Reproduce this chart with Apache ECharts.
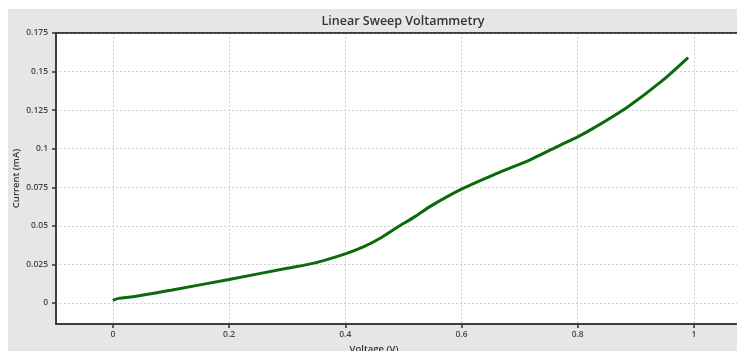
<!DOCTYPE html>
<html>
<head>
<meta charset="utf-8">
<script src="https://cdn.jsdelivr.net/npm/echarts@6/dist/echarts.min.js"></script>
<style>
html,body{margin:0;padding:0;background:#fff;overflow:hidden;}
#c{width:737px;height:351px;}
</style>
</head>
<body>
<div id="c"></div>
<script>
var voltage = [0, 0.01, 0.035, 0.1, 0.2, 0.3, 0.35, 0.4, 0.432, 0.46, 0.489, 0.52, 0.547, 0.6, 0.661, 0.719, 0.771, 0.8, 0.828, 0.886, 0.943, 0.99];
var current = [0.0017, 0.003, 0.004, 0.0083, 0.0153, 0.0225, 0.0262, 0.0318, 0.0365, 0.042, 0.049, 0.056, 0.0628, 0.0738, 0.084, 0.093, 0.1025, 0.1077, 0.1135, 0.1271, 0.1433, 0.1591];
var xTicks = [0, 0.2, 0.4, 0.6, 0.8, 1];
var yTicks = [0, 0.025, 0.05, 0.075, 0.1, 0.125, 0.15, 0.175];
var titleText = 'Linear Sweep Voltammetry';
var xName = 'Voltage (V)';
var yName = 'Current (mA)';

var points = voltage.map(function (v, i) { return [v, current[i]]; });
var font = 'Open Sans';
var chart = echarts.init(document.getElementById('c'), null, {renderer: 'canvas'});
chart.setOption({
  backgroundColor: '#fff',
  animation: false,
  graphic: [{
    type: 'rect', z: -10, silent: true,
    shape: {x: 8, y: 9, width: 760, height: 360},
    style: {fill: '#e6e6e6'}
  }, {
    type: 'line', z: 100, silent: true,
    shape: {x1: 56, y1: 33, x2: 737, y2: 33},
    style: {stroke: '#333', lineWidth: 1.5}
  }],
  title: {
    text: titleText, left: 398, top: 10, textAlign: 'center',
    textStyle: {fontFamily: font, fontSize: 12.5, fontWeight: 600, color: '#333'}
  },
  grid: {
    left: 56, top: 33, right: -15, bottom: 27,
    outerBoundsMode: 'none', containLabel: false,
    show: true, backgroundColor: '#fff', borderColor: '#333', borderWidth: 1.5
  },
  xAxis: {
    type: 'value', min: -0.0978, max: 1.1,
    name: xName, nameLocation: 'middle', nameGap: 19,
    nameTextStyle: {fontFamily: font, fontSize: 9.5, fontWeight: 600, color: '#333', padding: [0, 60, 0, 0]},
    axisLine: {show: true, onZero: false, lineStyle: {color: '#333', width: 1.5}},
    axisTick: {show: true, inside: false, length: 4, customValues: xTicks, lineStyle: {color: '#333', width: 1.5}},
    axisLabel: {customValues: xTicks, fontFamily: font, fontSize: 8.5, fontWeight: 600, color: '#444', margin: 6,
      formatter: function (v) { return String(v); }},
    splitLine: {show: true, lineStyle: {color: '#d0d0d0', type: [2, 2], width: 1}}
  },
  yAxis: {
    type: 'value', min: -0.0136, max: 0.175,
    name: yName, nameLocation: 'middle', nameGap: 35, nameRotate: 90, nameMoveOverlap: false,
    nameTextStyle: {fontFamily: font, fontSize: 9.5, fontWeight: 600, color: '#333'},
    axisLine: {show: true, onZero: false, lineStyle: {color: '#333', width: 1.5}},
    axisTick: {show: true, inside: false, length: 4, customValues: yTicks, lineStyle: {color: '#333', width: 1.5}},
    axisLabel: {customValues: yTicks, fontFamily: font, fontSize: 8.5, fontWeight: 600, color: '#444', margin: 8,
      formatter: function (v) { return String(v); }},
    splitLine: {show: true, lineStyle: {color: '#d0d0d0', type: [2, 2], width: 1}}
  },
  series: [{
    type: 'line', data: points, smooth: 0.3, showSymbol: false,
    lineStyle: {color: '#0b6a0b', width: 3},
    clip: true
  }]
});
</script>
</body>
</html>
